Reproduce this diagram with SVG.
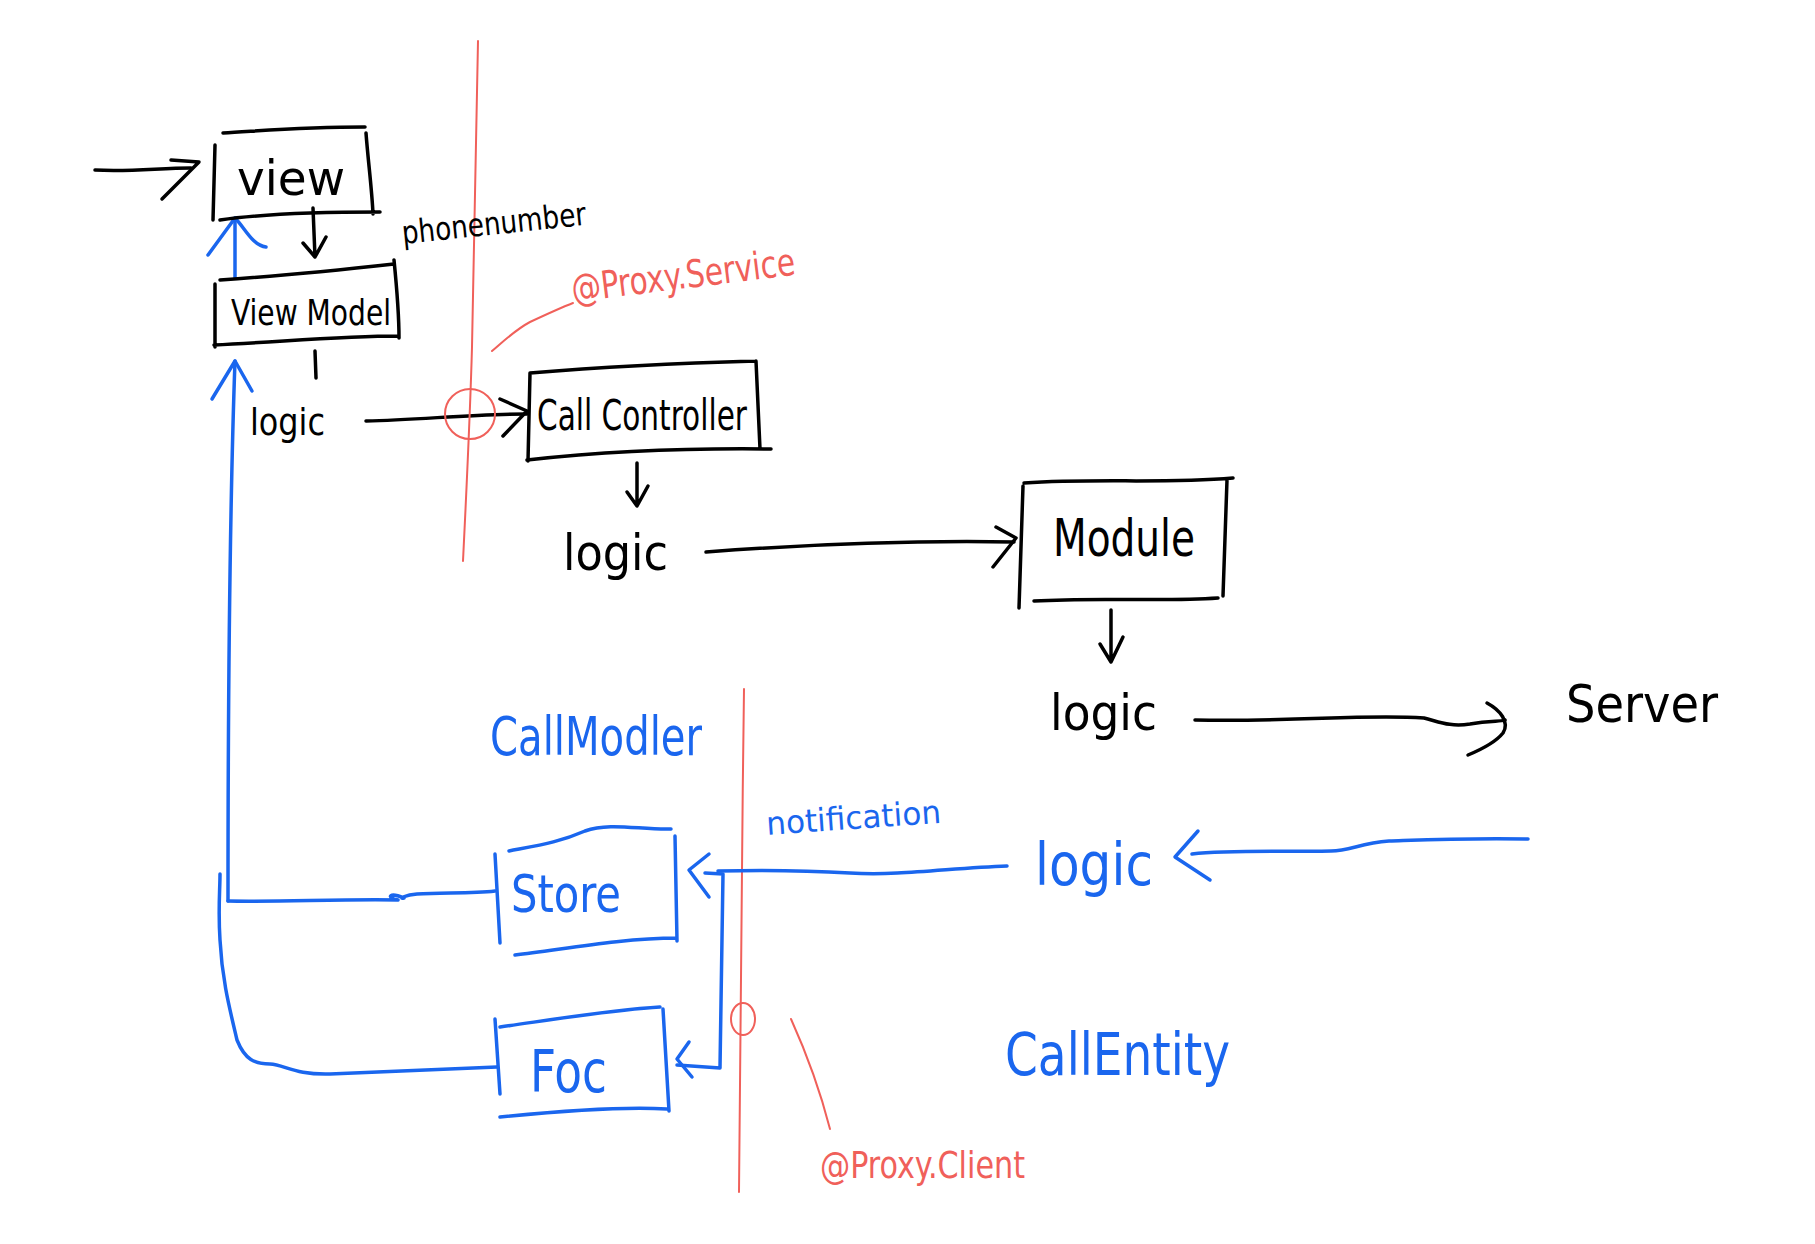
<svg xmlns="http://www.w3.org/2000/svg" width="1815" height="1244" viewBox="0 0 1815 1244">
<style>
.k{fill:none;stroke:#000;stroke-width:3.5;stroke-linecap:round;stroke-linejoin:round}
.b{fill:none;stroke:#1a66ee;stroke-width:3.5;stroke-linecap:round;stroke-linejoin:round}
.r{fill:none;stroke:#f0605a;stroke-width:2;stroke-linecap:round;stroke-linejoin:round}
text{font-family:"DejaVu Sans Condensed","Liberation Sans Narrow","Liberation Sans",sans-serif;font-weight:normal}
.tk{fill:#000}
.tb{fill:#1a66ee}
.tr{fill:#f0605a}
</style>
<rect width="1815" height="1244" fill="#fff"/>

<g id="connectors">
  <!-- entry arrow -->
  <path class="k" d="M95,170 C130,172 160,168 191,168"/>
  <path class="k" d="M171,160 L199,162 L162,199"/>
  <!-- view -> view model -->
  <path class="k" d="M313,208 L315,257 M303,243 L315,257 L326,237"/>
  <!-- tick -->
  <path class="k" d="M315,351 L316,378"/>
  <!-- logic -> call controller -->
  <path class="k" d="M366,421 C420,420 470,414 527,414"/>
  <path class="k" d="M500,399 L527,411 L503,436"/>
  <!-- cc down -->
  <path class="k" d="M637,463 L637,506 M627,492 L637,506 L648,486"/>
  <!-- logic -> module -->
  <path class="k" d="M706,552 C800,545 900,540 1014,542"/>
  <path class="k" d="M996,527 L1016,538 L993,567"/>
  <!-- module down -->
  <path class="k" d="M1111,610 L1111,662 M1100,644 L1111,662 L1123,637"/>
  <!-- logic -> server -->
  <path class="k" d="M1195,720 C1300,722 1360,714 1424,718 C1440,722 1450,727 1470,724 C1490,720 1500,722 1505,720"/>
  <path class="k" d="M1487,703 C1500,710 1510,722 1503,733 C1495,743 1480,750 1468,755"/>

  <!-- red boundary upper -->
  <path class="r" d="M478,41 C476,150 474,250 472,347 C470,420 466,500 463,561"/>
  <circle class="r" cx="470" cy="414" r="25" stroke-width="1.5"/>
  <path class="r" d="M492,351 C505,340 515,330 530,322 C545,315 560,308 573,303"/>
  <!-- red boundary lower -->
  <path class="r" d="M744,689 C742,850 740,1000 739,1192"/>
  <ellipse class="r" cx="743" cy="1019" rx="12" ry="16" stroke-width="1.5"/>
  <path class="r" d="M791,1019 C805,1050 820,1090 830,1129"/>

  <!-- blue: right -> logic -->
  <path class="b" d="M1528,839 C1460,838 1420,840 1389,841 C1360,843 1350,851 1331,851 C1280,852 1230,850 1192,854"/>
  <path class="b" d="M1198,831 L1175,857 L1210,880"/>
  <!-- logic -> store -->
  <path class="b" d="M1007,866 C950,868 900,876 850,873 C800,870 760,870 718,871"/>
  <path class="b" d="M709,854 L689,870 L709,897"/>
  <!-- branch down to Foc -->
  <path class="b" d="M705,873 L723,874 L720,1068 L677,1065"/>
  <path class="b" d="M689,1042 L677,1059 L692,1077"/>
  <!-- store -> left, up to view model -->
  <path class="b" d="M495,891 C470,894 440,892 417,894 C405,895 398,899 404,898 C390,892 385,897 398,900 C340,899 280,902 228,901"/>
  <path class="b" d="M228,901 C228,700 230,500 235,361"/>
  <path class="b" d="M212,399 L235,361 L252,391"/>
  <!-- view model -> view -->
  <path class="b" d="M235,278 L235,218"/>
  <path class="b" d="M208,255 L235,218 C245,228 252,245 266,247"/>
  <!-- Foc -> left curve -->
  <path class="b" d="M497,1067 C430,1070 380,1072 330,1074 C295,1075 285,1065 270,1064 C255,1064 245,1060 237,1040 C230,1010 222,980 220,940 C218,910 220,890 220,874"/>
</g>

<g id="view">
  <path class="k" d="M223,133 C260,131 300,127 365,127 M215,145 L213,220 M366,133 C368,160 372,190 373,214 M220,220 C260,214 320,212 380,212"/>
  <text class="tk" x="237" y="195" font-size="48" textLength="108" lengthAdjust="spacingAndGlyphs">view</text>
</g>

<g id="phonenumber">
  <text class="tk" x="403" y="244" font-size="32" textLength="185" lengthAdjust="spacingAndGlyphs" transform="rotate(-6 403 244)">phonenumber</text>
</g>

<g id="viewmodel">
  <path class="k" d="M220,280 C280,276 340,270 394,264 M215,284 L215,347 M394,260 C397,290 399,315 399,338 M214,345 C280,342 340,336 399,336"/>
  <text class="tk" x="231" y="325" font-size="36" textLength="160" lengthAdjust="spacingAndGlyphs">View Model</text>
</g>

<g id="logic1">
  <text class="tk" x="250" y="435" font-size="38" textLength="75" lengthAdjust="spacingAndGlyphs">logic</text>
</g>

<g id="callcontroller">
  <path class="k" d="M530,373 C600,367 680,363 756,361 M530,373 L528,461 M756,361 L760,449 M527,460 C600,452 690,448 771,449"/>
  <text class="tk" x="537" y="450" font-size="42" textLength="210" lengthAdjust="spacingAndGlyphs" transform="translate(0,-20)">Call Controller</text>
</g>

<g id="logic2">
  <text class="tk" x="563" y="570" font-size="50" textLength="105" lengthAdjust="spacingAndGlyphs">logic</text>
</g>

<g id="module">
  <path class="k" d="M1024,483 C1100,478 1160,484 1233,478 M1023,486 L1019,608 M1227,480 L1223,596 M1034,601 C1100,597 1160,602 1218,598"/>
  <text class="tk" x="1053" y="556" font-size="52" textLength="142" lengthAdjust="spacingAndGlyphs">Module</text>
</g>

<g id="logic3">
  <text class="tk" x="1050" y="730" font-size="50" textLength="107" lengthAdjust="spacingAndGlyphs">logic</text>
</g>

<g id="server">
  <text class="tk" x="1566" y="722" font-size="52" textLength="152" lengthAdjust="spacingAndGlyphs">Server</text>
</g>

<g id="proxyservice">
  <text class="tr" x="573" y="302" font-size="38" textLength="225" lengthAdjust="spacingAndGlyphs" transform="rotate(-7 573 302)">@Proxy.Service</text>
</g>

<g id="proxyclient">
  <text class="tr" x="820" y="1178" font-size="38" textLength="205" lengthAdjust="spacingAndGlyphs">@Proxy.Client</text>
</g>

<g id="callmodler">
  <text class="tb" x="490" y="755" font-size="54" textLength="212" lengthAdjust="spacingAndGlyphs">CallModler</text>
</g>

<g id="notification">
  <text class="tb" x="767" y="835" font-size="32" textLength="175" lengthAdjust="spacingAndGlyphs" transform="rotate(-4 767 835)">notification</text>
</g>

<g id="logic4">
  <text class="tb" x="1035" y="885" font-size="58" textLength="118" lengthAdjust="spacingAndGlyphs">logic</text>
</g>

<g id="store">
  <path class="b" d="M509,851 C540,845 560,842 585,831 C610,822 640,830 671,829 M495,854 L500,943 M675,836 L677,941 M515,955 C560,950 620,938 677,938"/>
  <text class="tb" x="511" y="912" font-size="52" textLength="110" lengthAdjust="spacingAndGlyphs">Store</text>
</g>

<g id="foc">
  <path class="b" d="M500,1027 C550,1020 610,1010 660,1007 M495,1019 L500,1094 M663,1009 L669,1111 M500,1117 C550,1112 620,1106 667,1109"/>
  <text class="tb" x="530" y="1092" font-size="58" textLength="77" lengthAdjust="spacingAndGlyphs">Foc</text>
</g>

<g id="callentity">
  <text class="tb" x="1005" y="1075" font-size="58" textLength="225" lengthAdjust="spacingAndGlyphs">CallEntity</text>
</g>
</svg>
